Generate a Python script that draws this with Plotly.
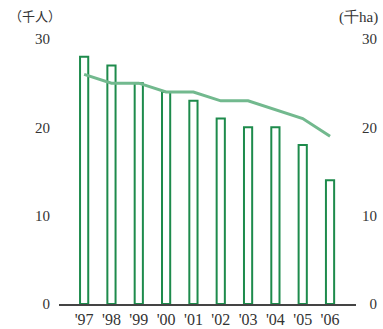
import plotly.graph_objects as go

years = ["'97", "'98", "'99", "'00", "'01", "'02", "'03", "'04", "'05", "'06"]
workers = [28, 27, 25, 24, 23, 21, 20, 20, 18, 14]   # 千人 (bars)
area = [26, 25, 25, 24, 24, 23, 23, 22, 21, 19]      # 千ha (line)
yticks = [0, 10, 20, 30]

pos = list(range(len(years)))
FONT = "Liberation Serif"
TXT = "#333333"

fig = go.Figure()
fig.add_trace(go.Bar(x=pos, y=workers, width=0.3,
                     marker=dict(color="white", line=dict(color="#1e8b4c", width=2)),
                     yaxis="y"))
fig.add_trace(go.Scatter(x=pos, y=area, mode="lines",
                         line=dict(color="#72b98e", width=3),
                         yaxis="y2"))

fig.update_layout(
    width=383, height=329,
    margin=dict(l=59, r=27, t=39, b=25, autoexpand=False),
    paper_bgcolor="white", plot_bgcolor="white",
    showlegend=False,
    font=dict(family=FONT, size=15, color=TXT),
    xaxis=dict(range=[-0.92, 9.95], tickmode="array", tickvals=pos, ticktext=years,
               showgrid=False, zeroline=False, showline=True, linecolor="#444444",
               linewidth=1.5, ticks="", automargin=False,
               tickfont=dict(size=16, color=TXT)),
    yaxis=dict(range=[0, 30], tickvals=yticks, showgrid=False, zeroline=False,
               showline=False, ticks="", ticklabelstandoff=8, automargin=False,
               tickfont=dict(size=15, color=TXT)),
    yaxis2=dict(range=[0, 30], tickvals=yticks,
                ticktext=["\u2007" + "0", "10", "20", "30"],
                overlaying="y", side="right", showgrid=False, zeroline=False,
                showline=False, ticks="", ticklabelstandoff=5, automargin=False,
                tickfont=dict(size=15, color=TXT)),
    annotations=[
        dict(text="（千人）", xref="paper", yref="paper", x=-0.175, y=1.0, yshift=24,
             xanchor="left", yanchor="middle", showarrow=False,
             font=dict(family="Noto Sans CJK JP", size=13, color=TXT)),
        dict(text="(千ha)", xref="paper", yref="paper", x=1.08, y=1.0, yshift=22,
             xanchor="right", yanchor="middle", showarrow=False,
             font=dict(family=FONT, size=15, color=TXT)),
    ],
)

fig.write_html("out.html", config={"displayModeBar": False},
               post_script="document.body.style.margin='0px';")
